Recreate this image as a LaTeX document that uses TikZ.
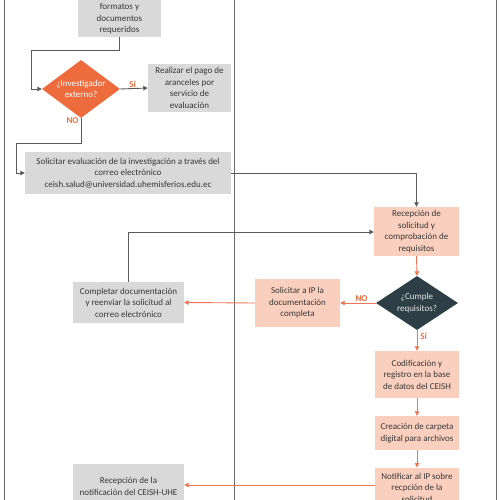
\documentclass[tikz,border=0pt]{standalone}
\usepackage{fontspec}
\setmainfont{Carlito}
\usetikzlibrary{arrows.meta,shapes.geometric}
\definecolor{orng}{RGB}{238,107,61}
\definecolor{orline}{RGB}{238,118,84}
\definecolor{peach}{RGB}{251,207,190}
\definecolor{boxgray}{RGB}{217,217,217}
\definecolor{slate}{RGB}{46,62,70}
\definecolor{lngray}{RGB}{90,90,90}
\definecolor{frgray}{RGB}{105,105,105}
\definecolor{txt}{RGB}{55,55,55}
\tikzset{
  base/.style={font=\fontsize{9}{11.5}\selectfont, align=center, inner sep=1pt, text=txt},
  graybox/.style={base, fill=boxgray},
  peachbox/.style={base, fill=peach},
  dia/.style={diamond, inner sep=0pt},
  diatext/.style={font=\fontsize{9}{11.5}\selectfont, align=center, inner sep=0pt},
  garrow/.style={draw=lngray, line width=0.9pt, -{Triangle[length=4.5pt,width=4.5pt]}},
  oarrow/.style={draw=orline, line width=0.9pt, -{Triangle[length=4.5pt,width=4.5pt]}},
  lbl/.style={font=\fontsize{9}{11}\selectfont\bfseries, text=orng, inner sep=0pt},
  frame/.style={draw=frgray, line width=1pt}
}
\begin{document}
\begin{tikzpicture}[x=1pt,y=-1pt]
\useasboundingbox (0,0) rectangle (500,500);
\clip (0,0) rectangle (500,500);
\fill[white] (0,0) rectangle (500,500);
% frame
\coordinate (f1t) at (4,-10); \coordinate (f1b) at (4,510);
\coordinate (f2t) at (234,-10); \coordinate (f2b) at (234,510);
\coordinate (f3t) at (496,-10); \coordinate (f3b) at (496,510);
\draw[frame] (f1t) -- (f1b);
\draw[frame] (f2t) -- (f2b);
\draw[frame] (f3t) -- (f3b);
% left lane
\node[graybox, anchor=south, minimum width=83pt, inner ysep=2.5pt] (docs) at (119.5,37) {formatos y\\documentos\\requeridos};
\fill[boxgray] ([yshift=-0.5pt]docs.north west) rectangle ([yshift=14pt]docs.north east);
\node[dia, fill=orng, minimum width=78pt, minimum height=58pt] (inv) at (81,89) {};
\node[diatext, text=white] (invt) at (inv.center) {¿Investigador\\externo?};
\node[graybox, minimum width=83pt, minimum height=48pt] (pago) at (189.5,88) {Realizar el pago de\\aranceles por\\servicio de\\evaluación};
\node[graybox, minimum width=206pt, minimum height=42pt] (sol) at (128,173) {Solicitar evaluación de la investigación a través del\\correo electrónico\\ceish.salud@universidad.uhemisferios.edu.ec};
\node[graybox, minimum width=111pt, minimum height=41pt] (comp) at (128.5,302.5) {Completar documentación\\y reenviar la solicitud al\\correo electrónico};
\node[graybox, anchor=north, minimum width=111pt, minimum height=44pt] (recnot) at (128.5,464) {Recepción de la\\notificación del CEISH-UHE};
% right lane
\node[peachbox, minimum width=85pt, minimum height=49pt] (recep) at (416.5,231.5) {Recepción de\\solicitud y\\comprobación de\\requisitos};
\node[dia, fill=slate, minimum width=82pt, minimum height=54pt] (cum) at (417,303) {};
\node[diatext, text=white!88!slate] (cumt) at (cum.center) {¿Cumple\\requisitos?};
\node[peachbox, minimum width=85pt, minimum height=48pt] (solip) at (297.5,303) {Solicitar a IP la\\documentación\\completa};
\node[peachbox, minimum width=84pt, minimum height=47pt] (cod) at (417,374.5) {Codificación y\\registro en la base\\de datos del CEISH};
\node[peachbox, minimum width=84pt, minimum height=34pt] (carp) at (417,433) {Creación de carpeta\\digital para archivos};
\node[peachbox, anchor=north, minimum width=84pt, minimum height=40pt, inner ysep=0pt] (notif) at (417,467.5) {Notificar al IP sobre\\recpción de la\\solicitud};
% connectors
\draw[garrow] (docs.south) -- (119.5,50) -- (31,50) -- (31,89) -- (inv.west);
\draw[garrow] (inv.east) -- node[lbl, pos=0.45, above=1pt] (si1) {Sí} (pago.west);
\draw[garrow] (inv.south) -- node[lbl, pos=0.1, left=2pt] (no1) {NO} (81,143) -- (16,143) -- (16,173) -- (sol.west);
\draw[garrow] (sol.east) -- (416.5,173) -- (recep.north);
\draw[garrow] (comp.north) -- (128.5,232) -- (recep.west |- 128.5,232);
\draw[oarrow] (recep.south) -- (cum.north);
\draw[oarrow] (cum.west) -- node[lbl, pos=0.4, above=1pt] (no2) {NO} (solip.east);
\draw[oarrow] (solip.west) -- (comp.east);
\draw[oarrow] (cum.south) -- node[lbl, pos=0.3, right=3pt] (si2) {Sí} (cod.north);
\draw[oarrow] (cod.south) -- (carp.north);
\draw[oarrow] (carp.south) -- (notif.north);
\draw[oarrow] (notif.west |- 0,485) -- (recnot.east |- 0,485);
\end{tikzpicture}
\end{document}
